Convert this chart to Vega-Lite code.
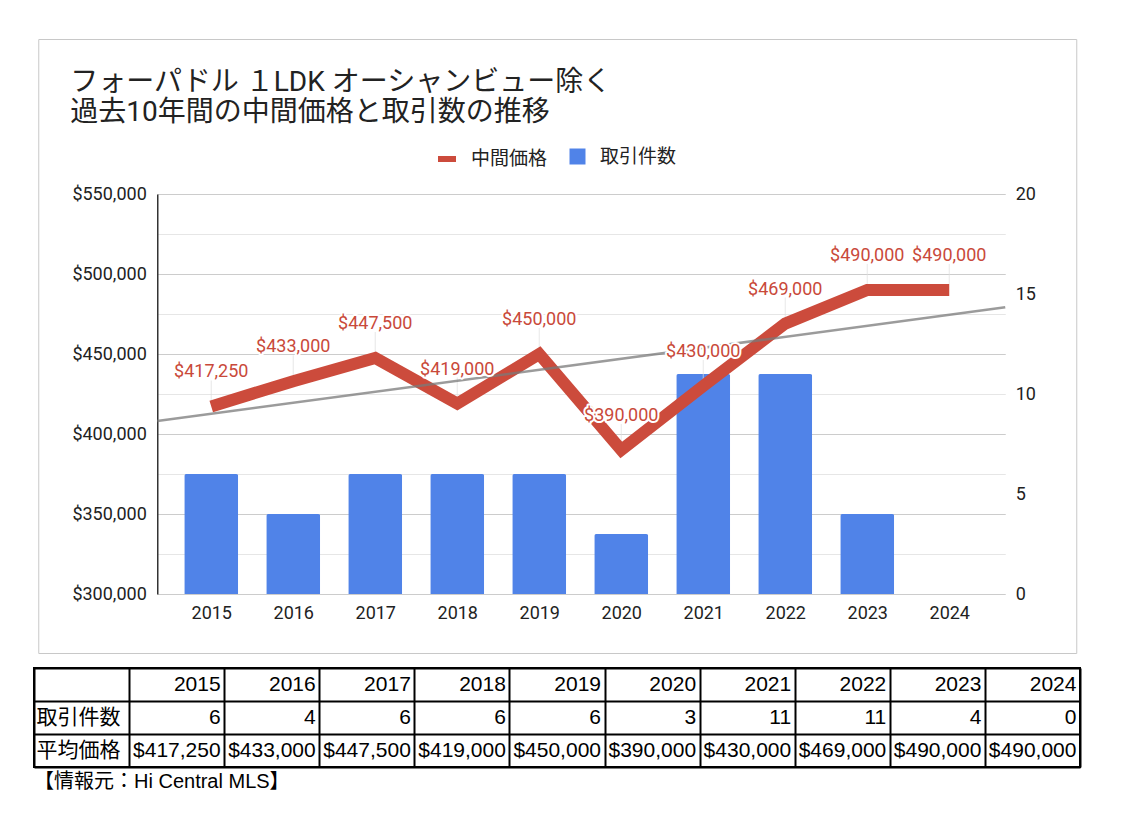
{
  "$schema": "https://vega.github.io/schema/vega-lite/v6.json",
  "background": "white",
  "padding": {"left": 33, "top": 38, "right": 10, "bottom": 10},
  "config": {
    "font": "Roboto, Noto Sans CJK JP, sans-serif",
    "axis": {"labelColor": "#222222", "labelFont": "Roboto, Noto Sans CJK JP"},
    "legend": {"labelColor": "#222222", "labelFont": "Roboto, Noto Sans CJK JP"}
  },
  "datasets": {
    "main": [
      {"year": 2015, "count": 6, "price": 417250},
      {"year": 2016, "count": 4, "price": 433000},
      {"year": 2017, "count": 6, "price": 447500},
      {"year": 2018, "count": 6, "price": 419000},
      {"year": 2019, "count": 6, "price": 450000},
      {"year": 2020, "count": 3, "price": 390000},
      {"year": 2021, "count": 11, "price": 430000},
      {"year": 2022, "count": 11, "price": 469000},
      {"year": 2023, "count": 4, "price": 490000},
      {"year": 2024, "count": 0, "price": 490000}
    ],
    "rowhdr": [{"h": "取引件数"}, {"h": "平均価格"}]
  },
  "spacing": 13,
  "center": true,
  "vconcat": [
    {
      "width": 1038,
      "height": 614,
      "view": {"stroke": "#c8c8c8", "strokeWidth": 1},
      "title": {
        "text": ["フォーパドル １LDK オーシャンビュー除く", "過去10年間の中間価格と取引数の推移"],
        "anchor": "start",
        "frame": "group",
        "orient": "top",
        "baseline": "top",
        "offset": -88,
        "dx": 32,
        "fontSize": 28,
        "lineHeight": 30,
        "fontWeight": "normal",
        "color": "#222222",
        "font": "Roboto, Noto Sans CJK JP"
      },
      "data": {"name": "main"},
      "encoding": {
        "x": {
          "field": "year",
          "type": "quantitative",
          "scale": {"domain": [2014.3415, 2024.683], "range": [119, 967], "nice": false, "zero": false, "padding": 0},
          "axis": {
            "orient": "bottom",
            "offset": -59,
            "values": [2015, 2016, 2017, 2018, 2019, 2020, 2021, 2022, 2023, 2024],
            "format": "d",
            "grid": false,
            "domain": false,
            "ticks": false,
            "labelPadding": 10,
            "labelFontSize": 18,
            "title": null
          }
        }
      },
      "layer": [
        {
          "mark": {"type": "bar", "width": 54, "cornerRadiusTopLeft": 2, "cornerRadiusTopRight": 2},
          "encoding": {
            "y": {
              "field": "count",
              "type": "quantitative",
              "scale": {"domain": [0, 20], "range": [555, 155], "nice": false},
              "axis": {
                "orient": "right",
                "offset": -71,
                "values": [0, 5, 10, 15, 20],
                "grid": false,
                "domain": false,
                "ticks": false,
                "labelPadding": 10,
                "labelFontSize": 18,
                "title": null
              }
            },
            "fill": {
              "datum": "取引件数",
              "scale": {"range": ["#5083e8"]},
              "legend": {
                "title": null,
                "orient": "none",
                "legendX": 534,
                "legendY": 108,
                "symbolType": "square",
                "symbolSize": 256,
                "symbolStrokeWidth": 0,
                "labelFontSize": 19,
                "labelOffset": 13,
                "padding": 0
              }
            }
          }
        },
        {
          "encoding": {
            "y": {
              "field": "price",
              "type": "quantitative",
              "scale": {"domain": [300000, 550000], "range": [555, 155], "nice": false, "zero": false},
              "axis": {
                "orient": "left",
                "offset": -119,
                "title": null,
                "values": [300000, 325000, 350000, 375000, 400000, 425000, 450000, 475000, 500000, 525000, 550000],
                "format": "$,.0f",
                "labelExpr": "datum.value % 50000 === 0 ? datum.label : ''",
                "grid": true,
                "gridColor": {"condition": {"test": "datum.value % 50000 === 0", "value": "#cccccc"}, "value": "#e6e6e6"},
                "gridWidth": 1,
                "domain": true,
                "domainColor": "#333333",
                "domainWidth": 1.5,
                "ticks": false,
                "labelPadding": 11,
                "labelFontSize": 18
              }
            }
          },
          "layer": [
            {
              "mark": {"type": "tick", "orient": "vertical", "size": 20, "thickness": 1, "color": "#dddddd", "yOffset": -16}
            },
            {
              "mark": {"type": "line", "strokeWidth": 12, "strokeCap": "butt", "strokeJoin": "miter"},
              "encoding": {
                "stroke": {
                  "datum": "中間価格",
                  "scale": {"range": ["#cc4b3c"]},
                  "legend": {
                    "title": null,
                    "orient": "none",
                    "legendX": 401,
                    "legendY": 108,
                    "symbolType": "stroke",
                    "symbolSize": 324,
                    "symbolStrokeWidth": 6,
                    "labelFontSize": 19,
                    "labelOffset": 12,
                    "padding": 0
                  }
                }
              }
            },
            {
              "transform": [{"regression": "price", "on": "year", "extent": [2014.3415, 2024.683]}],
              "mark": {"type": "line", "color": "#7a7a7a", "strokeWidth": 2.5, "opacity": 0.75}
            },
            {
              "mark": {"type": "text", "dy": -34, "fontSize": 18, "fill": "white", "stroke": "white", "strokeWidth": 4, "strokeJoin": "round"},
              "encoding": {"text": {"field": "price", "type": "quantitative", "format": "$,.0f"}}
            },
            {
              "mark": {"type": "text", "dy": -34, "fontSize": 18, "fill": "#c9493a"},
              "encoding": {"text": {"field": "price", "type": "quantitative", "format": "$,.0f"}}
            }
          ]
        }
      ],
      "resolve": {"scale": {"y": "independent"}, "axis": {"y": "independent"}}
    },
    {
      "width": 1046,
      "height": 99,
      "view": {"stroke": "#000000", "strokeWidth": 2},
      "title": {
        "text": "【情報元：Hi Central MLS】",
        "orient": "bottom",
        "anchor": "start",
        "frame": "group",
        "offset": 5,
        "fontSize": 20,
        "fontWeight": "normal",
        "color": "#000000",
        "font": "Liberation Sans, Noto Sans CJK JP"
      },
      "layer": [
        {
          "data": {"name": "main"},
          "mark": {"type": "text", "align": "right", "baseline": "middle", "dx": 44, "fontSize": 21, "font": "Liberation Sans, Noto Sans CJK JP", "color": "#000000"},
          "encoding": {
            "x": {"field": "year", "type": "ordinal", "scale": {"domain": ["label", 2015, 2016, 2017, 2018, 2019, 2020, 2021, 2022, 2023, 2024], "paddingInner": 0, "paddingOuter": 0}, "axis": {"labels": false, "ticks": false, "domain": false, "grid": true, "gridColor": "#000000", "gridWidth": 2, "gridOpacity": 1, "tickBand": "extent", "title": null}},
            "y": {"datum": "hdr", "type": "ordinal", "scale": {"domain": ["hdr", "取引件数", "平均価格"], "paddingInner": 0, "paddingOuter": 0}, "axis": {"labels": false, "ticks": false, "domain": false, "grid": true, "gridColor": "#000000", "gridWidth": 2, "gridOpacity": 1, "tickBand": "extent", "title": null}},
            "text": {"field": "year", "type": "ordinal"}
          }
        },
        {
          "data": {"name": "main"},
          "mark": {"type": "text", "align": "right", "baseline": "middle", "dx": 44, "fontSize": 21, "font": "Liberation Sans, Noto Sans CJK JP", "color": "#000000"},
          "encoding": {
            "x": {"field": "year", "type": "ordinal", "scale": {"domain": ["label", 2015, 2016, 2017, 2018, 2019, 2020, 2021, 2022, 2023, 2024], "paddingInner": 0, "paddingOuter": 0}, "axis": {"labels": false, "ticks": false, "domain": false, "grid": true, "gridColor": "#000000", "gridWidth": 2, "gridOpacity": 1, "tickBand": "extent", "title": null}},
            "y": {"datum": "取引件数", "type": "ordinal", "scale": {"domain": ["hdr", "取引件数", "平均価格"], "paddingInner": 0, "paddingOuter": 0}, "axis": {"labels": false, "ticks": false, "domain": false, "grid": true, "gridColor": "#000000", "gridWidth": 2, "gridOpacity": 1, "tickBand": "extent", "title": null}},
            "text": {"field": "count", "type": "quantitative"}
          }
        },
        {
          "data": {"name": "main"},
          "mark": {"type": "text", "align": "right", "baseline": "middle", "dx": 44, "fontSize": 21, "font": "Liberation Sans, Noto Sans CJK JP", "color": "#000000"},
          "encoding": {
            "x": {"field": "year", "type": "ordinal", "scale": {"domain": ["label", 2015, 2016, 2017, 2018, 2019, 2020, 2021, 2022, 2023, 2024], "paddingInner": 0, "paddingOuter": 0}, "axis": {"labels": false, "ticks": false, "domain": false, "grid": true, "gridColor": "#000000", "gridWidth": 2, "gridOpacity": 1, "tickBand": "extent", "title": null}},
            "y": {"datum": "平均価格", "type": "ordinal", "scale": {"domain": ["hdr", "取引件数", "平均価格"], "paddingInner": 0, "paddingOuter": 0}, "axis": {"labels": false, "ticks": false, "domain": false, "grid": true, "gridColor": "#000000", "gridWidth": 2, "gridOpacity": 1, "tickBand": "extent", "title": null}},
            "text": {"field": "price", "type": "quantitative", "format": "$,.0f"}
          }
        },
        {
          "data": {"name": "rowhdr"},
          "mark": {"type": "text", "align": "left", "baseline": "middle", "dx": -45, "fontSize": 21, "font": "Liberation Sans, Noto Sans CJK JP", "color": "#000000"},
          "encoding": {
            "x": {"datum": "label", "type": "ordinal", "scale": {"domain": ["label", 2015, 2016, 2017, 2018, 2019, 2020, 2021, 2022, 2023, 2024], "paddingInner": 0, "paddingOuter": 0}, "axis": {"labels": false, "ticks": false, "domain": false, "grid": true, "gridColor": "#000000", "gridWidth": 2, "gridOpacity": 1, "tickBand": "extent", "title": null}},
            "y": {"field": "h", "type": "ordinal", "scale": {"domain": ["hdr", "取引件数", "平均価格"], "paddingInner": 0, "paddingOuter": 0}, "axis": {"labels": false, "ticks": false, "domain": false, "grid": true, "gridColor": "#000000", "gridWidth": 2, "gridOpacity": 1, "tickBand": "extent", "title": null}},
            "text": {"field": "h", "type": "nominal"}
          }
        }
      ]
    }
  ]
}
